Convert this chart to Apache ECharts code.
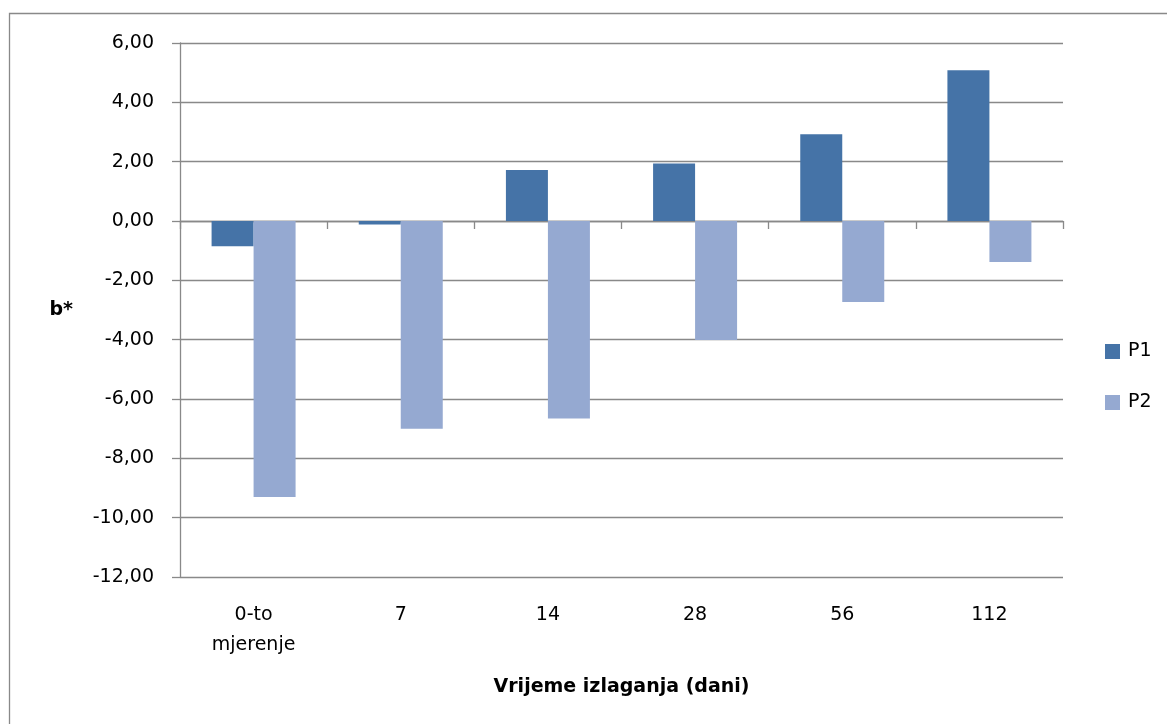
<!DOCTYPE html>
<html>
<head>
<meta charset="utf-8">
<script src="https://cdn.jsdelivr.net/npm/echarts@6/dist/echarts.min.js"></script>
<style>html,body{margin:0;padding:0;background:#fff}#c{width:1167px;height:724px}</style>
</head>
<body>
<div id="c"></div>
<script>
var categories = ['0-to\nmjerenje', '7', '14', '28', '56', '112'];
var p1Values = [-0.85, -0.12, 1.72, 1.94, 2.92, 5.08];
var p2Values = [-9.30, -7.00, -6.66, -4.01, -2.73, -1.38];
var seriesNames = ['P1', 'P2'];
var yTicks = { min: -12, max: 6, interval: 2 };

var FONT = 'DejaVu Sans';
var GRID = '#898989';
var chart = echarts.init(document.getElementById('c'), null, { renderer: 'canvas' });
chart.setOption({
  animation: false,
  backgroundColor: '#fff',
  textStyle: { fontFamily: FONT },
  graphic: [{
    type: 'rect', left: 7, top: 11, silent: true,
    shape: { x: 0, y: 0, width: 1200, height: 760 },
    style: { fill: 'none', stroke: GRID, lineWidth: 1.3 }
  }],
  grid: { left: 180, right: 104, top: 43, bottom: 147, containLabel: false },
  legend: {
    orient: 'vertical', left: 1100, top: 337,
    itemWidth: 15, itemHeight: 15, itemGap: 32,
    icon: 'rect',
    textStyle: { fontFamily: FONT, fontSize: 19, color: '#000', padding: [0, 0, 0, 3] },
    data: seriesNames
  },
  xAxis: [{
    type: 'category', data: categories, position: 'bottom',
    axisLine: { show: false, onZero: false },
    axisTick: { show: false },
    splitLine: { show: false },
    axisLabel: { fontFamily: FONT, fontSize: 19, color: '#000', margin: 23, lineHeight: 30, interval: 0 },
    name: 'Vrijeme izlaganja (dani)', nameLocation: 'middle', nameGap: 101,
    nameTextStyle: { fontFamily: FONT, fontSize: 19, fontWeight: 'bold', color: '#000' }
  }, {
    type: 'category', data: categories, position: 'top',
    axisLine: { show: true, onZero: true, lineStyle: { color: GRID, width: 1.3 } },
    axisTick: { show: true, inside: true, length: 8, lineStyle: { color: GRID, width: 1.3 } },
    axisLabel: { show: false },
    splitLine: { show: false }
  }],
  yAxis: {
    type: 'value', min: yTicks.min, max: yTicks.max, interval: yTicks.interval,
    axisLine: { show: true, lineStyle: { color: GRID, width: 1.3 } },
    axisTick: { show: true, length: 8, lineStyle: { color: GRID, width: 1.3 } },
    splitLine: { show: true, lineStyle: { color: GRID, width: 1.3 } },
    axisLabel: {
      fontFamily: FONT, fontSize: 19, color: '#000', margin: 26,
      formatter: function (v) { return v.toFixed(2).replace('.', ','); }
    },
    name: 'b*', nameLocation: 'middle', nameRotate: 0, nameGap: 107,
    nameTextStyle: { fontFamily: FONT, fontSize: 19, fontWeight: 'bold', color: '#000' }
  },
  series: [{
    name: seriesNames[0], type: 'bar', data: p1Values, xAxisIndex: 0,
    barWidth: 42, barGap: '0%',
    itemStyle: { color: '#4573A7' }
  }, {
    name: seriesNames[1], type: 'bar', data: p2Values, xAxisIndex: 0,
    barWidth: 42, barGap: '0%',
    itemStyle: { color: '#95A9D1' }
  }]
});
</script>
</body>
</html>
